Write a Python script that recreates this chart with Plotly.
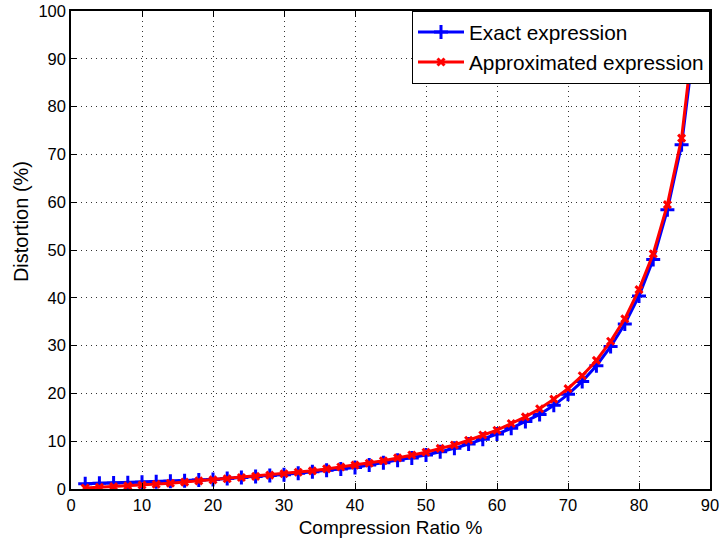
import plotly.graph_objects as go

# Compression ratio (%) sampled every 2 points
compression_ratio = [2, 4, 6, 8, 10, 12, 14, 16, 18, 20, 22, 24, 26, 28, 30, 32, 34, 36, 38, 40,
                     42, 44, 46, 48, 50, 52, 54, 56, 58, 60, 62, 64, 66, 68, 70, 72, 74, 76, 78, 80,
                     82, 84, 86, 88]

# Distortion (%) from the exact expression
distortion_exact = [1.1, 1.2, 1.25, 1.3, 1.4, 1.5, 1.6, 1.75, 1.9, 2.0, 2.2, 2.4, 2.6, 2.8, 3.0,
                    3.3, 3.6, 3.9, 4.2, 4.5, 5.0, 5.5, 6.0, 6.5, 7.1, 7.8, 8.5, 9.4, 10.4, 11.5,
                    12.7, 14.1, 15.6, 17.5, 19.8, 22.5, 25.8, 29.8, 34.5, 40.4, 48.0, 58.4, 72.0, 96.0]

# Distortion (%) from the approximated expression
distortion_approx = [0.2, 0.35, 0.5, 0.65, 0.85, 1.0, 1.2, 1.45, 1.7, 1.9, 2.15, 2.4, 2.65, 2.9, 3.2,
                     3.5, 3.8, 4.2, 4.6, 5.0, 5.4, 5.9, 6.5, 7.1, 7.7, 8.5, 9.2, 10.2, 11.3, 12.3,
                     13.7, 15.1, 16.8, 18.8, 21.0, 23.7, 26.9, 30.9, 35.6, 41.7, 49.2, 59.5, 73.4, 99.0]

x_ticks = list(range(0, 91, 10))
y_ticks = list(range(0, 101, 10))

FONT = "Liberation Sans, Arial, sans-serif"

fig = go.Figure()
fig.add_trace(go.Scatter(
    x=compression_ratio, y=distortion_exact, mode="lines+markers",
    name="Exact expression",
    line=dict(color="#0000ff", width=3),
    marker=dict(symbol="cross-thin", size=10, color="#0000ff",
                line=dict(color="#0000ff", width=3)),
))
fig.add_trace(go.Scatter(
    x=compression_ratio, y=distortion_approx, mode="lines+markers",
    name="Approximated expression",
    line=dict(color="#ff0000", width=3),
    marker=dict(symbol="x-thin", size=7, color="#ff0000",
                line=dict(color="#ff0000", width=3)),
))

axis_common = dict(
    showline=True, linecolor="black", linewidth=1.5, mirror="ticks",
    ticks="inside", ticklen=6, tickwidth=1, tickcolor="black",
    showgrid=True, gridcolor="#333", gridwidth=1, griddash="1px,4px",
    zeroline=False, automargin=False,
    tickfont=dict(family=FONT, size=16.5, color="black"),
)

fig.update_xaxes(
    range=[0, 90], tickvals=x_ticks,
    title=dict(text="Compression Ratio %", font=dict(family=FONT, size=19, color="black"),
               standoff=8),
    **axis_common,
)
fig.update_yaxes(range=[0, 100], tickvals=y_ticks, **axis_common)

# y-axis label placed as rotated text left of the tick labels
fig.add_annotation(
    text="Distortion (%)", textangle=-90, showarrow=False,
    xref="paper", yref="paper", x=-0.077, y=0.56,
    xanchor="center", yanchor="middle",
    font=dict(family=FONT, size=20, color="black"),
)

fig.update_layout(
    width=721, height=547,
    margin=dict(l=71, r=11, t=11, b=58),
    paper_bgcolor="white", plot_bgcolor="white",
    showlegend=True,
    legend=dict(
        x=1, y=1, xanchor="right", yanchor="top",
        bgcolor="white", bordercolor="black", borderwidth=1,
        font=dict(family=FONT, size=20.8, color="black"),
        tracegroupgap=0, itemwidth=46,
    ),
)

fig.write_html("out.html")
